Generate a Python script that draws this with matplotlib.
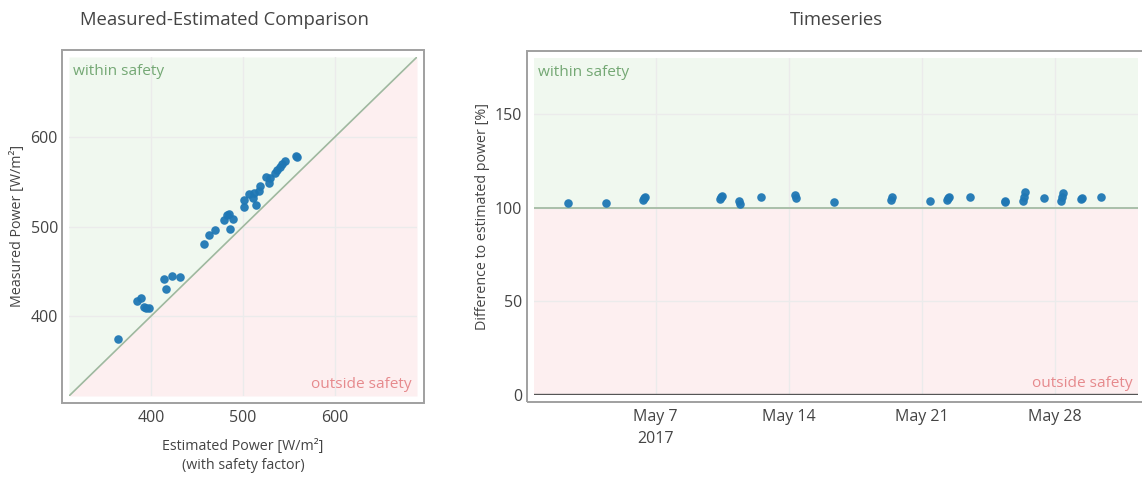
import numpy as np
import pandas as pd
import matplotlib
matplotlib.use("Agg")
import matplotlib.pyplot as plt
from matplotlib.patches import Rectangle

plt.rcParams['font.family'] = ['Open Sans', 'DejaVu Sans']

# measured vs estimated power [W/m²]
estimated = [363.5, 384.6, 389.0, 391.8, 394.5, 397.0, 413.7, 415.6, 422.5, 431.1,
             457.1, 462.8, 469.0, 479.5, 482.4, 484.2, 489.0, 485.3, 501.3, 500.9,
             506.6, 510.6, 511.7, 514.6, 517.6, 519.0, 525.3, 528.1, 530.0, 534.4,
             537.4, 539.9, 542.9, 545.7, 557.5, 559.3]
measured = [373.8, 416.9, 419.9, 409.3, 408.7, 408.3, 441.3, 430.3, 444.8, 443.1,
            480.7, 491.0, 496.5, 507.8, 512.6, 514.5, 508.9, 497.6, 521.5, 529.2,
            536.5, 531.4, 537.7, 524.2, 540.0, 545.5, 555.2, 548.8, 554.7, 560.3,
            563.3, 567.0, 569.6, 573.4, 579.5, 578.4]

# measured / estimated power over time [%]
ts_times = ["2017-05-02 10:00", "2017-05-04 09:00", "2017-05-06 08:30", "2017-05-06 09:30",
            "2017-05-06 10:30", "2017-05-10 10:00", "2017-05-10 11:00", "2017-05-10 12:00",
            "2017-05-11 10:00", "2017-05-11 11:00", "2017-05-12 12:45", "2017-05-14 08:30",
            "2017-05-14 09:30", "2017-05-16 09:00", "2017-05-19 09:30", "2017-05-19 10:30",
            "2017-05-21 10:20", "2017-05-22 08:30", "2017-05-22 09:30", "2017-05-22 10:30",
            "2017-05-23 12:30", "2017-05-25 09:00", "2017-05-25 09:40", "2017-05-26 08:00",
            "2017-05-26 09:00", "2017-05-26 10:00", "2017-05-27 10:50", "2017-05-28 08:00",
            "2017-05-28 09:00", "2017-05-28 10:00", "2017-05-29 09:40", "2017-05-29 10:20",
            "2017-05-30 10:20"]
ts_ratio = [102.5, 102.7, 104.3, 105.0, 105.6, 104.6, 105.5, 106.3,
            103.8, 101.8, 106.0, 106.6, 105.0, 103.0, 104.3, 105.8,
            103.4, 104.0, 105.2, 106.0, 105.7, 103.6, 102.9, 103.8,
            105.9, 108.2, 105.4, 103.8, 105.9, 108.0, 104.5, 105.2,
            106.0]

xy_ticks = [400, 500, 600]
ts_yticks = [0, 50, 100, 150]
ts_xticks = ["2017-05-07", "2017-05-14", "2017-05-21", "2017-05-28"]
ts_xticklabels = ["May 7\n2017", "May 14", "May 21", "May 28"]

TEXT = '#444444'
GRID = '#ebebeb'
GREEN_FILL = '#f0f8ef'
RED_FILL = '#fdeff0'
GREEN_TXT = '#74a874'
RED_TXT = '#e68a8d'
DOT = '#1f77b4'

W, H = 1142, 479
fig = plt.figure(figsize=(W / 100, H / 100), dpi=100)


def px_axes(x0, y0, x1, y1):
    return fig.add_axes([x0 / W, 1 - y1 / H, (x1 - x0) / W, (y1 - y0) / H])


def frame(ax, pad=7):
    # border drawn a few pixels outside the plotting area
    b = ax.get_position()
    r = Rectangle((b.x0 - pad / W, b.y0 - pad / H), b.width + 2 * pad / W, b.height + 2 * pad / H,
                  transform=fig.transFigure, fill=False, edgecolor='#a0a0a0', lw=1.4,
                  clip_on=False)
    fig.add_artist(r)


def style(ax):
    for s in ax.spines.values():
        s.set_visible(False)
    ax.set_axisbelow(True)
    ax.grid(True, color=GRID, lw=1.0)
    ax.tick_params(length=0, labelsize=11.5, colors=TEXT)
    ax.tick_params(axis='x', pad=10)
    ax.tick_params(axis='y', pad=8)


def zone_labels(ax):
    ax.annotate('within safety', xy=(0, 1), xycoords='axes fraction', xytext=(3, -5),
                textcoords='offset points', ha='left', va='top', fontsize=11.1, color=GREEN_TXT)
    ax.annotate('outside safety', xy=(1, 0), xycoords='axes fraction', xytext=(-4, 3),
                textcoords='offset points', ha='right', va='bottom', fontsize=11.1, color=RED_TXT)


# ---- Measured-Estimated Comparison ----
ax1 = px_axes(69, 57, 417, 396)
lo, hi = 310, 690
ax1.fill_between([lo, hi], [lo, hi], hi, color=GREEN_FILL, lw=0, zorder=0)
ax1.fill_between([lo, hi], lo, [lo, hi], color=RED_FILL, lw=0, zorder=0)
ax1.plot([lo, hi], [lo, hi], color='#9fb89f', lw=1.2, zorder=1)
ax1.scatter(estimated, measured, s=38, color=DOT, alpha=0.95, lw=0, zorder=3)
ax1.set_xlim(lo, hi)
ax1.set_ylim(lo, hi)
ax1.set_xticks(xy_ticks)
ax1.set_yticks(xy_ticks)
style(ax1)
zone_labels(ax1)
frame(ax1)

# ---- Timeseries ----
ax2 = px_axes(533.5, 58, 1138, 395)
t = pd.to_datetime(ts_times)
ax2.axhspan(100, 180, color=GREEN_FILL, lw=0, zorder=0)
ax2.axhspan(0, 100, color=RED_FILL, lw=0, zorder=0)
ax2.axhline(100, color='#aabfaa', lw=1.4, zorder=1)
ax2.axhline(0, color='#555555', lw=1.7, zorder=1)
ax2.scatter(t, ts_ratio, s=38, color=DOT, alpha=0.95, lw=0, zorder=3)
ax2.set_xlim(pd.Timestamp("2017-04-30 14:00"), pd.Timestamp("2017-06-01 09:00"))
ax2.set_ylim(0, 180)
ax2.set_yticks(ts_yticks)
ax2.set_xticks(pd.to_datetime(ts_xticks))
ax2.set_xticklabels(ts_xticklabels, linespacing=1.5)
style(ax2)
zone_labels(ax2)
frame(ax2)

# titles and axis labels
fig.text(225 / W, 1 - 20 / H, 'Measured-Estimated Comparison', ha='center', va='center',
         fontsize=13.3, color=TEXT)
fig.text(836 / W, 1 - 20 / H, 'Timeseries', ha='center', va='center', fontsize=13.3, color=TEXT)
fig.text(18 / W, 1 - 226 / H, 'Measured Power [W/m²]', rotation=90, ha='center', va='center',
         fontsize=10.3, color=TEXT)
fig.text(243 / W, 1 - 456 / H, 'Estimated Power [W/m²]\n(with safety factor)', ha='center',
         va='center', fontsize=10.3, color=TEXT, linespacing=1.4)
fig.text(482 / W, 1 - 216 / H, 'Difference to estimated power [%]', rotation=90, ha='center',
         va='center', fontsize=10.3, color=TEXT)

fig.savefig('out.png', dpi=100)
